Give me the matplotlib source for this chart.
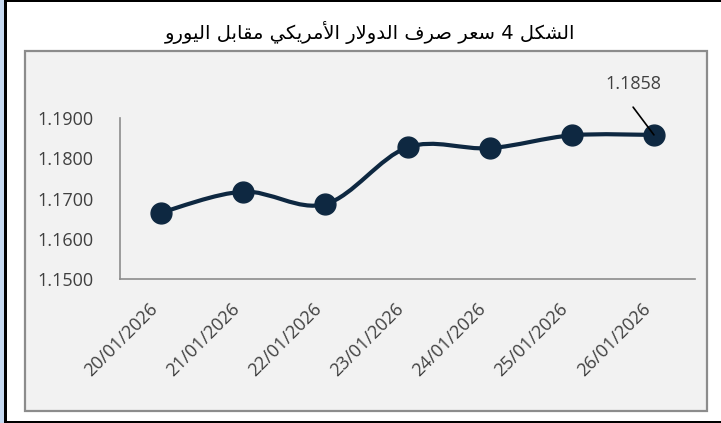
import matplotlib
matplotlib.use("Agg")
import matplotlib.pyplot as plt
from matplotlib.patches import Rectangle, PathPatch
from matplotlib.path import Path
from matplotlib.transforms import ScaledTranslation

# data
dates = ['20/01/2026', '21/01/2026', '22/01/2026', '23/01/2026',
         '24/01/2026', '25/01/2026', '26/01/2026']
rates = [1.1665, 1.1717, 1.1686, 1.1827, 1.1825, 1.1857, 1.1858]
yticks = [1.15, 1.16, 1.17, 1.18, 1.19]
title = 'الشكل 4 سعر صرف الدولار الأمريكي مقابل اليورو'

NAVY = '#0e2841'
GREY_TXT = '#404040'

# small arabic shaper (matplotlib has no bidi / joining)
FORMS = {
    'ا': ('\uFE8D', '\uFE8E', None, None),
    'أ': ('\uFE83', '\uFE84', None, None),
    'د': ('\uFEA9', '\uFEAA', None, None),
    'ر': ('\uFEAD', '\uFEAE', None, None),
    'و': ('\uFEED', '\uFEEE', None, None),
    'ب': ('\uFE8F', '\uFE90', '\uFE91', '\uFE92'),
    'س': ('\uFEB1', '\uFEB2', '\uFEB3', '\uFEB4'),
    'ش': ('\uFEB5', '\uFEB6', '\uFEB7', '\uFEB8'),
    'ص': ('\uFEB9', '\uFEBA', '\uFEBB', '\uFEBC'),
    'ع': ('\uFEC9', '\uFECA', '\uFECB', '\uFECC'),
    'ف': ('\uFED1', '\uFED2', '\uFED3', '\uFED4'),
    'ق': ('\uFED5', '\uFED6', '\uFED7', '\uFED8'),
    'ك': ('\uFED9', '\uFEDA', '\uFEDB', '\uFEDC'),
    'ل': ('\uFEDD', '\uFEDE', '\uFEDF', '\uFEE0'),
    'م': ('\uFEE1', '\uFEE2', '\uFEE3', '\uFEE4'),
    'ي': ('\uFEF1', '\uFEF2', '\uFEF3', '\uFEF4'),
}
LAM_ALEF = {'ا': ('\uFEFB', '\uFEFC'), 'أ': ('\uFEF7', '\uFEF8')}


def shape(text):
    out = []
    i = 0
    n = len(text)
    while i < n:
        c = text[i]
        if c not in FORMS:
            out.append(c)
            i += 1
            continue
        prev = text[i - 1] if i > 0 else ''
        joins_prev = prev in FORMS and FORMS[prev][2] is not None
        if c == 'ل' and i + 1 < n and text[i + 1] in LAM_ALEF:
            iso, fin = LAM_ALEF[text[i + 1]]
            out.append(fin if joins_prev else iso)
            i += 2
            continue
        nxt = text[i + 1] if i + 1 < n else ''
        iso, fin, ini, med = FORMS[c]
        joins_next = ini is not None and nxt in FORMS
        if joins_prev and joins_next:
            out.append(med)
        elif joins_prev:
            out.append(fin)
        elif joins_next:
            out.append(ini)
        else:
            out.append(iso)
        i += 1
    return ''.join(out)[::-1]


W, H = 721, 423
fig = plt.figure(figsize=(W / 100, H / 100), dpi=100)
fig.patch.set_facecolor('white')


def px_rect(x0, y0, x1, y1, **kw):
    # rectangle in figure pixels (y from the top), kept behind the axes
    r = Rectangle((x0 / W, 1 - y1 / H), (x1 - x0) / W, (y1 - y0) / H,
                  transform=fig.transFigure, zorder=-10, **kw)
    fig.add_artist(r)
    return r


# page frame
px_rect(0, 0, 4, H, facecolor='#c6d9f0', edgecolor='none')
px_rect(4, 0, 7, H, facecolor='black', edgecolor='none')
px_rect(4, 0, W, 2, facecolor='black', edgecolor='none')
px_rect(4, 421, W, H, facecolor='black', edgecolor='none')
# chart area box
px_rect(25, 51, 707, 411, facecolor='#f2f2f2', edgecolor='#8c8c8c', linewidth=1.6)

fig.text(370 / W, 1 - 33 / H, shape(title), ha='center', va='center',
         fontsize=14, family='DejaVu Sans', color='black')

ax = fig.add_axes([120 / W, 1 - 279 / H, (695 - 120) / W, (279 - 118) / H])
ax.set_facecolor('none')

x = list(range(len(rates)))

# smoothed line (excel-style bezier)
verts = [(x[0], rates[0])]
codes = [Path.MOVETO]
n = len(rates)
for i in range(n - 1):
    p0 = (x[max(i - 1, 0)], rates[max(i - 1, 0)])
    p1 = (x[i], rates[i])
    p2 = (x[i + 1], rates[i + 1])
    p3 = (x[min(i + 2, n - 1)], rates[min(i + 2, n - 1)])
    c1 = (p1[0] + (p2[0] - p0[0]) / 6, p1[1] + (p2[1] - p0[1]) / 6)
    c2 = (p2[0] - (p3[0] - p1[0]) / 6, p2[1] - (p3[1] - p1[1]) / 6)
    verts += [c1, c2, p2]
    codes += [Path.CURVE4] * 3
ax.add_patch(PathPatch(Path(verts, codes), facecolor='none', edgecolor=NAVY,
                       linewidth=3, capstyle='round', joinstyle='round', zorder=2))
ax.plot(x, rates, linestyle='none', marker='o', markersize=15, color=NAVY, zorder=3)

# data label on the last point
ax.annotate('', xy=(x[-1], rates[-1]), xytext=(-15, 20), textcoords='offset points',
            arrowprops=dict(arrowstyle='-', color='black', lw=1.2, shrinkA=0, shrinkB=0),
            zorder=4)
ax.annotate(f'{rates[-1]:.4f}', xy=(x[-1], rates[-1]), xytext=(-15, 37),
            textcoords='offset points', ha='center', va='center',
            fontsize=13, family='Open Sans', color=GREY_TXT)

ax.set_xlim(-0.5, n - 0.5)
ax.set_ylim(1.15, 1.19)
ax.set_yticks(yticks)
ax.set_yticklabels([f'{v:.4f}' for v in yticks], family='Open Sans', fontsize=13,
                   color=GREY_TXT)
# excel draws the value labels a few pixels above the gridline position
shift = ScaledTranslation(0, 3 / 100, fig.dpi_scale_trans)
for lab in ax.get_yticklabels():
    lab.set_transform(lab.get_transform() + shift)
ax.set_xticks(x)
ax.set_xticklabels(dates, rotation=45, ha='right', family='Open Sans', fontsize=13,
                   color=GREY_TXT)
ax.tick_params(axis='y', length=0, pad=19)
ax.tick_params(axis='x', length=0, pad=15)
for s in ['top', 'right']:
    ax.spines[s].set_visible(False)
for s in ['left', 'bottom']:
    ax.spines[s].set_color('#8c8c8c')
    ax.spines[s].set_linewidth(1.2)

fig.savefig('out.png', dpi=100)
